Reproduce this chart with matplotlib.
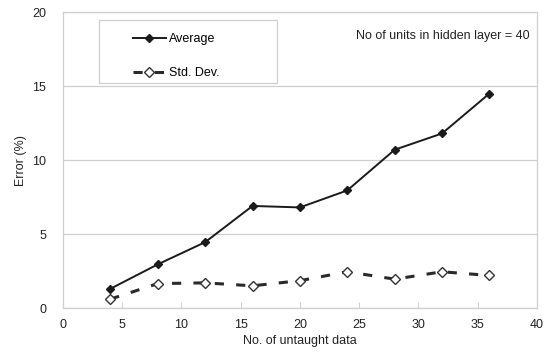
import matplotlib.pyplot as plt
from matplotlib.patches import Rectangle

# --- Données ---
untaught = [4, 8, 12, 16, 20, 24, 28, 32, 36]
average = [1.3, 2.95, 4.45, 6.9, 6.8, 7.95, 10.7, 11.8, 14.5]
std_dev = [0.6, 1.65, 1.7, 1.5, 1.85, 2.45, 1.95, 2.45, 2.2]

x_ticks = [0, 5, 10, 15, 20, 25, 30, 35, 40]
y_ticks = [0, 5, 10, 15, 20]

plt.rcParams["font.family"] = ["Liberation Sans", "DejaVu Sans"]
plt.rcParams["font.size"] = 9

fig = plt.figure(figsize=(5.51, 3.63), dpi=100)
ax = fig.add_axes([0.1143, 0.1515, 0.860, 0.815])

grey = "#cfcfcf"

ax.plot(untaught, average, color="#1a1a1a", lw=1.4, marker="D", ms=4.5,
        mfc="#1a1a1a", mec="#1a1a1a", label="Average")
ax.plot(untaught, std_dev, color="#2a2a2a", lw=2.2, ls=(0, (3, 4)), marker="D",
        ms=5, mfc="white", mec="#333333", mew=1.0, label="Std. Dev.")

ax.set_xlim(0, 40)
ax.set_ylim(0, 20)
ax.set_xticks(x_ticks)
ax.set_yticks(y_ticks)
ax.yaxis.grid(True, color=grey, lw=0.9)
ax.set_axisbelow(True)

for sp in ax.spines.values():
    sp.set_color(grey)
    sp.set_linewidth(0.9)

ax.tick_params(axis="x", direction="in", length=4, color=grey, pad=8, labelcolor="#222222")
ax.tick_params(axis="y", length=0, pad=12, labelcolor="#222222")

ax.set_xlabel("No. of untaught data", color="#222222", labelpad=3)
ax.set_ylabel("Error (%)", color="#222222", labelpad=4)

ax.text(0.985, 0.92, "No of units in hidden layer = 40", transform=ax.transAxes,
        ha="right", va="center", color="#222222")

# cadre de la légende (style Excel)
ax.add_patch(Rectangle((0.076, 0.76), 0.375, 0.213, transform=ax.transAxes,
                       facecolor="white", edgecolor=grey, lw=0.9, zorder=3))

leg = ax.legend(loc="upper left", bbox_to_anchor=(0.148, 0.928), frameon=False,
                handlelength=2.6, borderpad=0, labelspacing=1.75, handletextpad=0.3,
                borderaxespad=0)
leg.set_zorder(4)

fig.savefig("out.png", dpi=100)
